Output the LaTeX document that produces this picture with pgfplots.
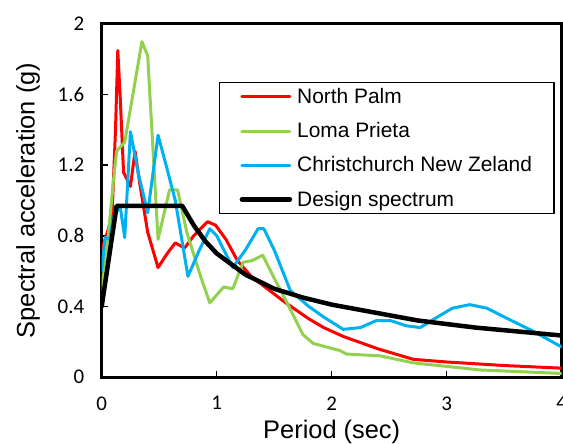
\documentclass[border=0pt]{standalone}
\usepackage{pgfplots}
\pgfplotsset{compat=1.18}
\usepackage{fontspec}
\setmainfont{Liberation Sans}
\newfontfamily\tickfont{Carlito}

\definecolor{npred}{RGB}{255,0,0}
\definecolor{lpgreen}{RGB}{146,208,80}
\definecolor{chblue}{RGB}{0,176,240}

\begin{document}
\begin{tikzpicture}
\path[use as bounding box] (-101.7bp,-67bp) rectangle (461.3bp,377bp);
\begin{axis}[
  scale only axis,
  width=460bp, height=353bp,
  xmin=0, xmax=4, ymin=0, ymax=2,
  xtick={0,1,2,3,4},
  ytick={0,0.4,0.8,1.2,1.6,2},
  yticklabels={0,0.4,0.8,1.2,1.6,2},
  xticklabels={0,1,2,3,4},
  xtick pos=left, ytick pos=left,
  tick align=inside,
  major tick length=6bp,
  tick style={black, line width=1.5bp},
  axis line style={black, line width=3bp},
  /pgf/number format/assume math mode=true,
  ticklabel style={font=\tickfont\fontsize{21}{21}\selectfont},
  yticklabel style={xshift=-14bp},
  xticklabel style={yshift=-16bp},
  xlabel={Period (sec)},
  ylabel={Spectral acceleration (g)},
  label style={font=\fontsize{25.5}{25.5}\selectfont},
  xlabel style={yshift=-3bp},
  ylabel style={yshift=11bp},
  legend cell align=left,
  legend image code/.code={\draw[#1] (0bp,0bp) -- (48bp,0bp);},
  legend style={
    at={(0.255,0.836)}, anchor=north west,
    draw=black, line width=1.3bp,
    font=\fontsize{21}{21}\selectfont,
    inner xsep=20bp, inner ysep=4bp,
    row sep=13.5bp, column sep=3bp,
  },
  every axis plot/.append style={line join=round, line cap=round},
]
% North Palm
\addplot[npred, line width=3bp] coordinates {
(0,0.72) (0.05,0.82) (0.09,0.92) (0.12,1.40) (0.14,1.85) (0.16,1.60)
(0.19,1.16) (0.25,1.08) (0.29,1.28) (0.33,1.10) (0.40,0.82) (0.49,0.62)
(0.57,0.70) (0.64,0.76) (0.72,0.73) (0.80,0.80) (0.92,0.88) (0.99,0.86)
(1.08,0.78) (1.18,0.66) (1.30,0.57) (1.46,0.49) (1.60,0.42) (1.80,0.33)
(1.93,0.28) (2.10,0.23) (2.40,0.16) (2.71,0.10) (3.00,0.085) (3.50,0.065)
(4.00,0.05)};
\addlegendentry{North Palm}
% Loma Prieta
\addplot[lpgreen, line width=3bp] coordinates {
(0,0.50) (0.05,0.75) (0.10,1.10) (0.13,1.28) (0.20,1.33) (0.35,1.90)
(0.40,1.82) (0.49,0.78) (0.59,1.06) (0.66,1.06) (0.74,0.82) (0.86,0.57)
(0.94,0.42) (1.06,0.51) (1.14,0.50) (1.23,0.65) (1.31,0.66) (1.40,0.69)
(1.50,0.56) (1.62,0.41) (1.75,0.24) (1.84,0.19) (2.07,0.15) (2.13,0.13)
(2.42,0.12) (2.71,0.08) (3.29,0.04) (4.00,0.02)};
\addlegendentry{Loma Prieta}
% Christchurch
\addplot[chblue, line width=3bp] coordinates {
(0,0.60) (0.03,0.79) (0.07,0.78) (0.10,0.90) (0.16,0.97) (0.20,0.79)
(0.25,1.39) (0.32,1.15) (0.40,0.93) (0.49,1.37) (0.56,1.20) (0.64,1.00)
(0.75,0.57) (0.85,0.72) (0.94,0.84) (1.00,0.80) (1.14,0.62) (1.25,0.72)
(1.36,0.84) (1.41,0.84) (1.50,0.72) (1.64,0.49) (1.80,0.40) (1.93,0.34)
(2.10,0.27) (2.25,0.28) (2.39,0.32) (2.51,0.32) (2.65,0.29) (2.77,0.28)
(2.92,0.34) (3.05,0.39) (3.20,0.41) (3.35,0.39) (3.50,0.34) (3.75,0.26)
(4.00,0.17)};
\addlegendentry{Christchurch New Zeland}
% Design spectrum
\addplot[black, line width=4.5bp] coordinates {
(0,0.40) (0.13,0.97) (0.70,0.97) (0.80,0.86) (0.90,0.77) (1.00,0.70)
(1.25,0.58) (1.50,0.50) (1.75,0.45) (2.00,0.41) (2.25,0.38) (2.50,0.35)
(2.75,0.32) (3.00,0.30) (3.25,0.28) (3.50,0.265) (3.75,0.25) (4.00,0.235)};
\addlegendentry{Design spectrum}
\end{axis}
\end{tikzpicture}
\end{document}
